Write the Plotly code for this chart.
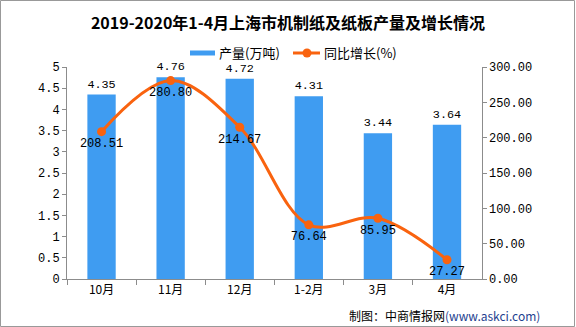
import plotly.graph_objects as go
from plotly.subplots import make_subplots

categories = ["10月", "11月", "12月", "1-2月", "3月", "4月"]
output_values = [4.35, 4.76, 4.72, 4.31, 3.44, 3.64]
growth_values = [208.51, 280.80, 214.67, 76.64, 85.95, 27.27]
left_ticks = [0, 0.5, 1, 1.5, 2, 2.5, 3, 3.5, 4, 4.5, 5]
right_ticks = [0, 50, 100, 150, 200, 250, 300]

W, H = 576, 327
L, R, T, B = 67, 68, 67, 48
pw, ph = W - L - R, H - T - B

num_font = "SimSun, Liberation Mono, DejaVu Sans Mono, Noto Sans CJK SC"
cjk_font = "SimSun, Noto Sans CJK SC"
axis_color = "#8c8c8c"
bar_color = "#3f9cf1"
line_color = "#f9630f"


def px_x(px):
    return (px - L) / pw


def px_y(py):
    return (T + ph - py) / ph


fig = make_subplots(specs=[[{"secondary_y": True}]])

fig.add_trace(go.Bar(
    x=categories, y=output_values, name="产量(万吨)",
    marker=dict(color=bar_color, line=dict(width=0)),
    width=0.41,
    text=[f"{v:.2f}" for v in output_values], textposition="outside",
    textfont=dict(family=num_font, size=12, color="#000"),
    cliponaxis=False, showlegend=False,
), secondary_y=False)

fig.add_trace(go.Scatter(
    x=categories, y=growth_values, name="同比增长(%)",
    mode="lines+markers+text",
    line=dict(color=line_color, width=3, shape="spline", smoothing=1.0),
    marker=dict(color=line_color, size=9),
    text=[f"{v:.2f}" for v in growth_values], textposition="bottom center",
    textfont=dict(family=num_font, size=12, color="#000"),
    cliponaxis=False, showlegend=False,
), secondary_y=True)

fig.update_layout(
    width=W, height=H,
    margin=dict(l=L, r=R, t=T, b=B),
    paper_bgcolor="white", plot_bgcolor="white",
    showlegend=False,
    title=dict(text="<b>2019-2020年1-4月上海市机制纸及纸板产量及增长情况</b>",
               x=288 / W, xanchor="center", y=1 - 23 / H, yanchor="middle",
               font=dict(family=cjk_font, size=16, color="#000")),
    font=dict(family=num_font, size=12, color="#000"),
)

fig.update_xaxes(
    type="category", showline=True, linecolor=axis_color, linewidth=1,
    ticks="outside", tickcolor=axis_color, ticklen=5, tickson="boundaries",
    tickfont=dict(family=cjk_font, size=12, color="#000"),
    showgrid=False, zeroline=False,
)
fig.update_yaxes(
    range=[0, 5], tickvals=left_ticks, ticktext=[f"{v:g}" for v in left_ticks],
    showline=True, linecolor=axis_color, linewidth=1,
    ticks="outside", tickcolor=axis_color, ticklen=4,
    showgrid=False, zeroline=False,
    tickfont=dict(family=num_font, size=12, color="#000"),
    secondary_y=False,
)
fig.update_yaxes(
    range=[0, 300], tickvals=right_ticks, ticktext=[f"{v:.2f}" for v in right_ticks],
    showline=True, linecolor=axis_color, linewidth=1,
    ticks="outside", tickcolor=axis_color, ticklen=4,
    showgrid=False, zeroline=False,
    tickfont=dict(family=num_font, size=12, color="#000"),
    secondary_y=True,
)

# outer border of the image
fig.add_shape(type="rect", xref="paper", yref="paper",
              x0=-L / pw + 0.5 / pw, x1=1 + R / pw - 1.5 / pw,
              y0=-B / ph + 0.5 / ph, y1=1 + T / ph - 0.5 / ph,
              line=dict(color="#999999", width=1), layer="below")

# manual legend
fig.add_shape(type="rect", xref="paper", yref="paper",
              x0=px_x(190), x1=px_x(215), y0=px_y(55.5), y1=px_y(50.5),
              fillcolor=bar_color, line=dict(width=0))
fig.add_annotation(text="产量(万吨)", xref="paper", yref="paper",
                   x=px_x(217), xanchor="left", y=px_y(53), yanchor="middle",
                   showarrow=False, font=dict(family=cjk_font, size=13, color="#000"))
fig.add_shape(type="line", xref="paper", yref="paper",
              x0=px_x(293), x1=px_x(320), y0=px_y(53), y1=px_y(53),
              line=dict(color=line_color, width=3))
fig.add_shape(type="circle", xref="paper", yref="paper",
              x0=px_x(302.5), x1=px_x(311.5), y0=px_y(57.5), y1=px_y(48.5),
              fillcolor=line_color, line=dict(width=0))
fig.add_annotation(text="同比增长(%)", xref="paper", yref="paper",
                   x=px_x(322), xanchor="left", y=px_y(53), yanchor="middle",
                   showarrow=False, font=dict(family=cjk_font, size=13, color="#000"))

fig.add_annotation(text="制图：中商情报网<span style='color:#1f3f8f'>(www.askci.com)</span>",
                   xref="paper", yref="paper", x=px_x(542), xanchor="right",
                   y=px_y(315), yanchor="middle", showarrow=False,
                   font=dict(family=cjk_font, size=12, color="#000"))

fig.write_html("out.html")
